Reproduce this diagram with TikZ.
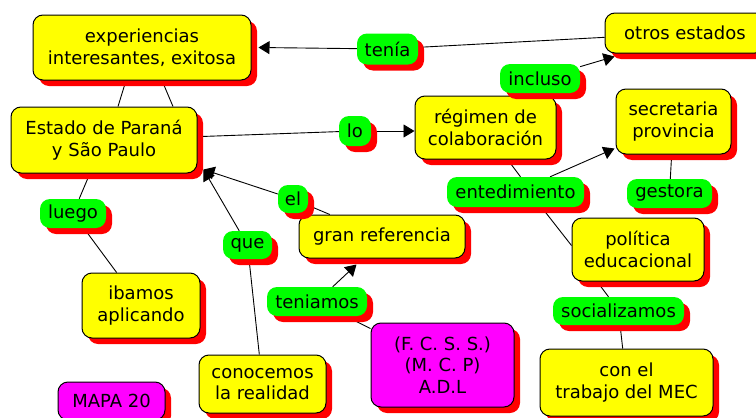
\documentclass[tikz,border=0pt]{standalone}
\usepackage{fontspec}
\setmainfont{DejaVu Sans}
\usetikzlibrary{arrows.meta,shadows,backgrounds,calc}
\definecolor{cyel}{RGB}{255,255,0}
\definecolor{cgreen}{RGB}{0,255,0}
\definecolor{cred}{RGB}{255,0,0}
\definecolor{cmag}{RGB}{255,0,255}
\begin{document}
\begin{tikzpicture}[x=1pt,y=-1pt,
  every node/.style={font=\fontsize{18}{21.5}\selectfont, align=center, inner sep=0pt},
  sz/.style 2 args={minimum width=#1pt, minimum height=#2pt},
  redshadow/.style={general shadow={fill=cred, shadow xshift=6pt, shadow yshift=-6pt}},
  concept/.style={draw=black, line width=1pt, fill=cyel, rounded corners=10pt, redshadow},
  mconcept/.style={draw=black, line width=1pt, fill=cmag, rounded corners=10pt, redshadow},
  link/.style={fill=cgreen, rounded corners=10pt, redshadow},
  conn/.style={draw=black, line width=0.9pt},
  arr/.style={conn, -{Triangle[length=11pt,width=13pt]}}
]
\useasboundingbox (0,0) rectangle (756,418);

% concepts
\node[concept, sz={218}{65}] (exp) at (142,47.5) {experiencias\\interesantes, exitosa};
\node[concept, sz={186}{66}] (est) at (104,140) {Estado de Paraná\\y São Paulo};
\node[concept, sz={160}{40}] (otros) at (685,33) {otros estados};
\node[concept, sz={141}{63}] (reg) at (485.5,127.5) {régimen de\\colaboración};
\node[concept, sz={115}{65}] (sec) at (673.5,121.5) {secretaria\\provincia};
\node[concept, sz={166}{43}] (gran) at (382,236.5) {gran referencia};
\node[concept, sz={132}{63}] (pol) at (638,249.5) {política\\educacional};
\node[concept, sz={118}{65}] (iba) at (141,305.5) {ibamos\\aplicando};
\node[concept, sz={127}{58}] (con) at (262.5,384) {conocemos\\la realidad};
\node[mconcept, sz={107}{38}] (mapa) at (111.5,401) {MAPA 20};
\node[mconcept, sz={143}{84}] (mag) at (442.5,365) {(F. C. S. S.)\\(M. C. P)\\A.D.L};
\node[concept, sz={173}{67}] (mec) at (626.5,382.5) {con el\\trabajo del MEC};

% linking phrases
\node[link, sz={61}{31}] (ten) at (387.5,49) {tenía};
\node[link, sz={80}{29}] (inc) at (540,78.5) {incluso};
\node[link, sz={32}{30}] (lo) at (355,131) {lo};
\node[link, sz={137}{30}] (ent) at (515.5,192) {entedimiento};
\node[link, sz={85}{29}] (ges) at (669.5,193.5) {gestora};
\node[link, sz={30}{28}] (el) at (293,199) {el};
\node[link, sz={66}{29}] (luego) at (73,213.5) {luego};
\node[link, sz={49}{28}] (que) at (247.5,245) {que};
\node[link, sz={100}{29}] (teni) at (317,301.5) {teniamos};
\node[link, sz={131}{28}] (soc) at (618.5,311) {socializamos};

\begin{scope}[on background layer]
\draw[conn] (ten) -- (otros);
\draw[arr] (ten) -- ([xshift=7pt]exp.east);
\draw[arr] (inc) -- ([shift={(10,3)}]otros.south west);
\draw[conn] (est) -- (lo);
\draw[arr] (lo) -- (lo -| reg.west);
\draw[conn] ([xshift=22pt]reg.south) -- ([xshift=5pt]ent.north);
\draw[arr] (ent) -- ([shift={(-1,-6)}]sec.south west);
\draw[conn] ([xshift=26pt]ent.south) -- ([shift={(0,-4)}]pol.west);
\draw[conn] (sec) -- (ges);
\draw[conn] ([xshift=-41pt]pol.south) -- ([xshift=-10pt]soc.north);
\draw[conn] (soc) -- (mec);
\draw[conn] ([xshift=-16pt]exp.south) -- ([xshift=14pt]est.north);
\draw[conn] ([xshift=20pt]exp.south) -- ([xshift=69pt]est.north);
\draw[conn] (est) -- (luego);
\draw[conn] (luego) -- (iba);
\draw[conn] (gran) -- (el);
\draw[arr] (el) -- ([shift={(6,-4)}]est.south east);
\draw[conn] (con) -- (que);
\draw[arr] (que) -- ([shift={(6,-4)}]est.south east);
\draw[conn] (mag) -- (teni);
\draw[arr] (teni) -- ([shift={(58,6)}]gran.south west);
\end{scope}
\end{tikzpicture}
\end{document}
